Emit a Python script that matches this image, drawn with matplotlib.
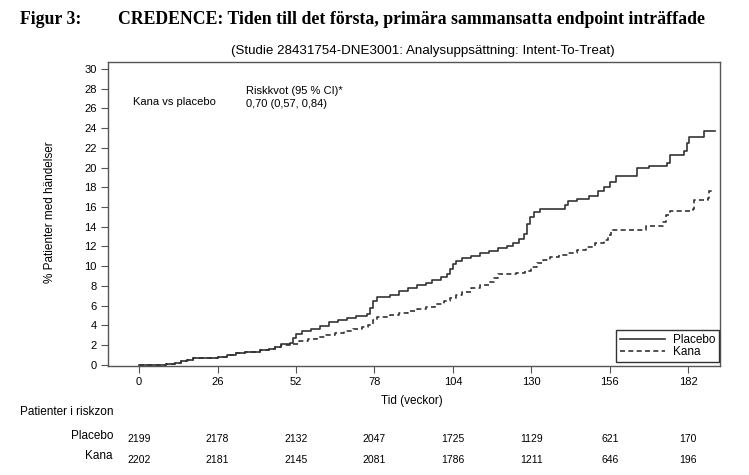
import matplotlib
matplotlib.use("Agg")
import matplotlib.pyplot as plt
from matplotlib.transforms import blended_transform_factory

# ---- data ----
placebo_weeks = [0, 9, 12, 14, 16, 18, 26, 29, 32, 35, 40, 43, 45, 47, 50, 51, 52, 54, 57, 60,
                 63, 66, 69, 72, 75.5, 76.5, 77.5, 79, 83, 86, 89, 92, 95, 97, 100, 102, 103,
                 104, 105, 107, 110, 113, 116, 119, 122, 124, 126, 127.5, 128.5, 129.5, 131,
                 133, 141, 142, 145, 149, 152, 154, 156, 158, 165, 169, 175, 176, 180.5,
                 181.5, 182.3, 187.2, 191]
placebo_pct = [0.0, 0.05, 0.15, 0.35, 0.5, 0.65, 0.75, 0.95, 1.15, 1.3, 1.5, 1.6, 1.8, 2.1,
               2.2, 2.7, 3.1, 3.4, 3.6, 3.9, 4.3, 4.5, 4.7, 4.9, 5.1, 5.8, 6.5, 6.9, 7.1, 7.5,
               7.8, 8.1, 8.3, 8.6, 8.9, 9.2, 9.7, 10.2, 10.5, 10.8, 11.0, 11.3, 11.5, 11.8,
               12.0, 12.3, 12.8, 13.3, 14.3, 15.0, 15.5, 15.8, 16.2, 16.6, 16.8, 17.1, 17.6,
               18.0, 18.5, 19.1, 19.9, 20.15, 20.5, 21.3, 21.7, 22.5, 23.1, 23.7, 23.7]

kana_weeks = [0, 9, 12, 14, 16, 18, 26, 29, 32, 35, 40, 43, 45, 47, 50, 53, 56, 59, 62, 65,
              68, 71, 74, 76, 77.5, 79, 83, 86, 89, 92, 95, 98, 101, 103, 105, 107, 110, 113,
              116, 117.5, 119, 125, 128, 130, 132, 134, 136, 139, 142, 145, 148, 151, 154,
              155.5, 156.5, 168, 173.5, 174.5, 176, 183.5, 184, 188.5, 189, 191]
kana_pct = [0.0, 0.05, 0.15, 0.35, 0.5, 0.65, 0.75, 0.95, 1.15, 1.3, 1.5, 1.6, 1.8, 2.0, 2.1,
            2.4, 2.6, 2.8, 3.0, 3.2, 3.4, 3.6, 3.8, 4.0, 4.5, 4.8, 5.0, 5.2, 5.4, 5.65, 5.9,
            6.2, 6.5, 6.8, 7.1, 7.4, 7.8, 8.1, 8.4, 8.8, 9.2, 9.3, 9.5, 9.9, 10.3, 10.6, 10.9,
            11.1, 11.3, 11.6, 11.9, 12.3, 12.6, 13.2, 13.7, 14.1, 14.5, 15.2, 15.6, 15.8,
            16.7, 16.9, 17.6, 17.6]

x_ticks = [0, 26, 52, 78, 104, 130, 156, 182]
y_ticks = list(range(0, 31, 2))
risk_placebo = [2199, 2178, 2132, 2047, 1725, 1129, 621, 170]
risk_kana = [2202, 2181, 2145, 2081, 1786, 1211, 646, 196]

SANS = ["Liberation Sans", "DejaVu Sans"]
SERIF = ["Liberation Serif", "DejaVu Serif"]
LC = "#333333"

fig = plt.figure(figsize=(7.49, 4.75), dpi=100)
ax = fig.add_axes([0.1438, 0.2305, 0.8175, 0.639])

ax.plot(placebo_weeks, placebo_pct, drawstyle="steps-post", color=LC, lw=1.2,
        label="Placebo")
ax.plot(kana_weeks, kana_pct, drawstyle="steps-post", color=LC, lw=1.2,
        linestyle=(0, (3, 2)), label="Kana")

ax.set_xlim(-10.4, 192.5)
ax.set_ylim(-0.08, 30.7)
ax.set_xticks(x_ticks)
ax.set_yticks(y_ticks)
ax.tick_params(direction="out", length=5, width=0.8, color="#555555",
               labelsize=8, pad=3)
for lab in ax.get_xticklabels() + ax.get_yticklabels():
    lab.set_family(SANS)
for sp in ax.spines.values():
    sp.set_color("#555555")
    sp.set_linewidth(1.0)

leg = ax.legend(loc="lower right", bbox_to_anchor=(0.9984, 0.0115), fancybox=False,
                edgecolor="#333333", framealpha=1, prop={"family": SANS, "size": 8.5},
                handlelength=3.8, handletextpad=0.7, borderpad=0.3, labelspacing=0.05,
                borderaxespad=0.0)
leg.get_frame().set_linewidth(1.0)

# annotations inside axes
ax.text(-2.0, 26.6, "Kana vs placebo", fontsize=8, family=SANS, va="center", ha="left")
ax.text(35.3, 27.8, "Riskkvot (95 % CI)*", fontsize=8, family=SANS, va="center", ha="left")
ax.text(35.3, 26.4, "0,70 (0,57, 0,84)", fontsize=8, family=SANS, va="center", ha="left")

# titles
fig.text(20 / 749, 1 - 19 / 475, "Figur 3:", fontsize=12.8, family=SERIF,
         fontweight="bold", va="center", ha="left")
fig.text(118 / 749, 1 - 19 / 475,
         "CREDENCE: Tiden till det första, primära sammansatta endpoint inträffade",
         fontsize=12.8, family=SERIF, fontweight="bold", va="center", ha="left")
fig.text(423 / 749, 1 - 51 / 475,
         "(Studie 28431754-DNE3001: Analysuppsättning: Intent-To-Treat)",
         fontsize=9.6, family=SANS, va="center", ha="center")

# axis labels
fig.text(50 / 749, 1 - 212 / 475, "% Patienter med händelser", fontsize=8.5,
         family=SANS, rotation=90, va="center", ha="center")
fig.text(412 / 749, 1 - 401 / 475, "Tid (veckor)", fontsize=8.5, family=SANS,
         va="center", ha="center")

# risk table
tr = blended_transform_factory(ax.transData, fig.transFigure)
fig.text(113 / 749, 1 - 412 / 475, "Patienter i riskzon", fontsize=8.5, family=SANS,
         va="center", ha="right")
fig.text(113 / 749, 1 - 436 / 475, "Placebo", fontsize=8.5, family=SANS,
         va="center", ha="right")
fig.text(113 / 749, 1 - 456 / 475, "Kana", fontsize=8.5, family=SANS,
         va="center", ha="right")
for xv, n in zip(x_ticks, risk_placebo):
    ax.text(xv, 1 - 439 / 475, str(n), transform=tr, fontsize=7.5, family=SANS,
            va="center", ha="center")
for xv, n in zip(x_ticks, risk_kana):
    ax.text(xv, 1 - 460 / 475, str(n), transform=tr, fontsize=7.5, family=SANS,
            va="center", ha="center")

fig.savefig("out.png", dpi=100)
